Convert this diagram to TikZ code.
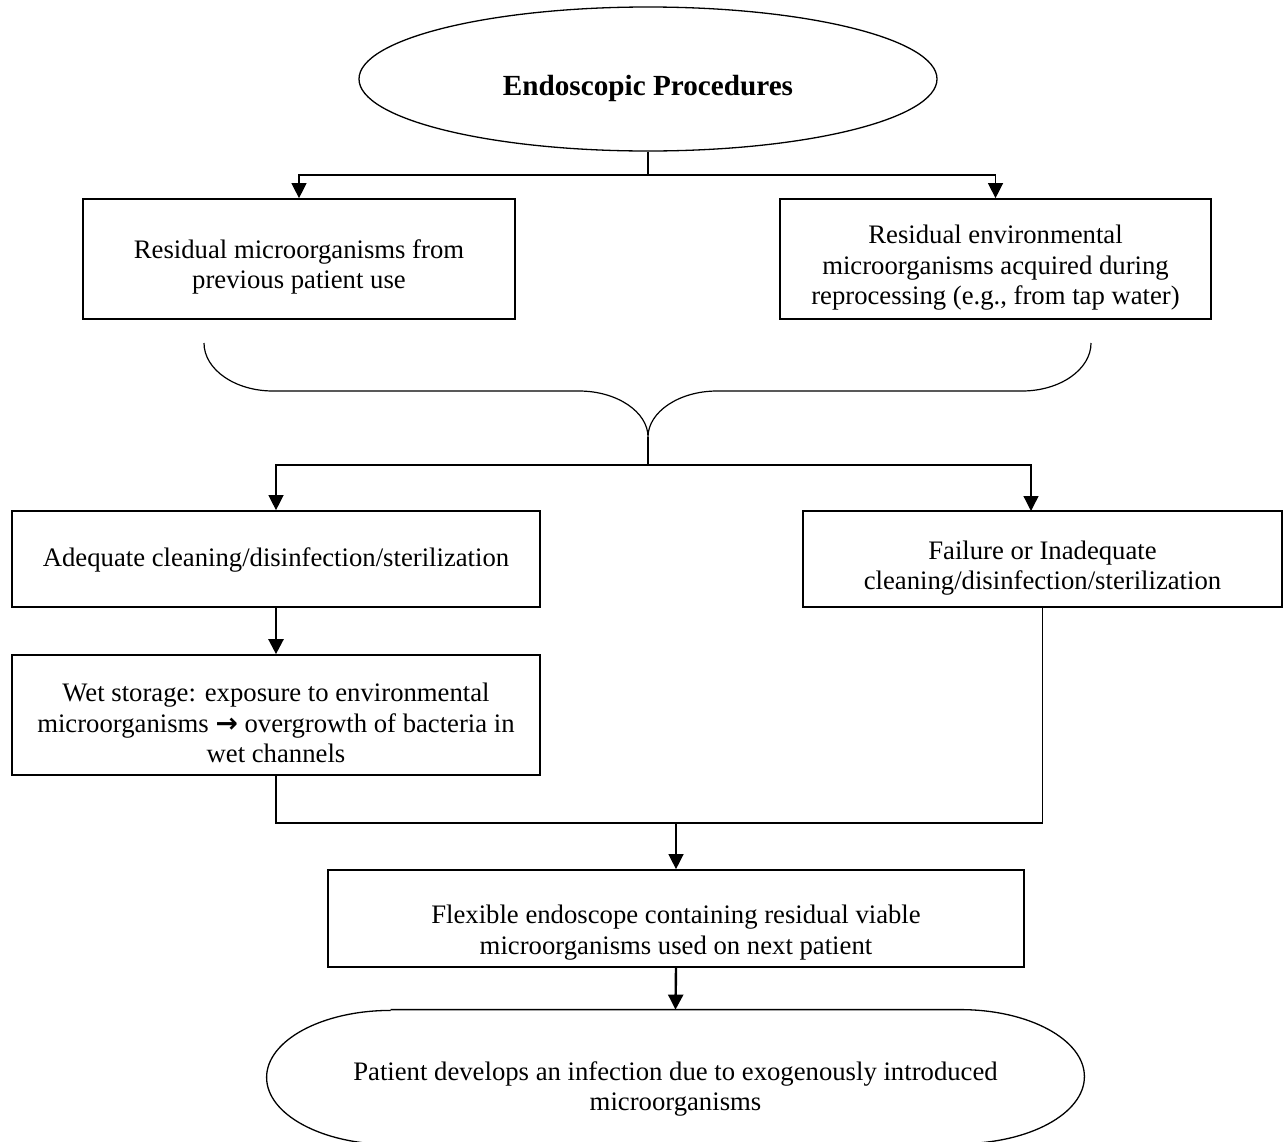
\documentclass[tikz,border=0pt]{standalone}
\usepackage{fontspec}
\setmainfont{Liberation Serif}
\newfontfamily\arrowfont{DejaVu Sans}
\usepackage{tikz}
\usetikzlibrary{arrows.meta}
\usetikzlibrary{shapes.geometric}

\tikzset{
    stepbox/.style   = {draw, rectangle, line width=0.85pt, inner sep=0pt},
    steptext/.style  = {align=center, inner sep=0pt},
    flowline/.style  = {line width=0.65pt},
    flowarrow/.style = {line width=0.65pt, -{Triangle[length=7.5pt, width=7.5pt]}},
    boldarrow/.style = {line width=1.2pt,  -{Triangle[length=7.5pt, width=7.5pt]}},
}

\begin{document}
\begin{tikzpicture}[x=0.5pt, y=-0.5pt, font=\fontsize{13.35}{15.25}\selectfont]
            % Frame to ensure alignment:
            \useasboundingbox                                                 (0, 0) rectangle (1283, 1141);
            % Source
            \node[draw, ellipse, line width=0.65pt, minimum width=289pt, minimum height=72pt, inner sep=0pt,
                  label={[steptext, yshift=-4.5pt]center:\fontsize{14.6}{16}\selectfont\bfseries Endoscopic Procedures}]
                 (proc) at ( 648.0,   79.0) {};
            % Residual microorganisms
            \node[stepbox, minimum width=216pt,   minimum height=60pt,
                  label={[steptext, yshift=-4pt]center:{Residual microorganisms from\\previous patient use}}]
                 (resid) at ( 299.0,  259.0) {};
            \node[stepbox, minimum width=215.5pt, minimum height=60pt,
                  label={[steptext, yshift=-4.5pt]center:{Residual environmental\\microorganisms acquired during\\reprocessing (e.g., from tap water)}}]
                 (envir) at ( 995.5,  259.0) {};
            % Brace
            \coordinate (tip) at (648, 437);
            \draw[line width=0.6pt] (204, 343) .. controls (204, 369.5) and (235, 391) .. (273, 391)
                 -- (579, 391) .. controls (617, 391) and (648, 412) .. (tip)
                 .. controls (648, 412) and (679, 391) .. (717, 391)
                 -- (1022, 391) .. controls (1060, 391) and (1091, 369.5) .. (1091, 343);
            % Reprocessing
            \node[stepbox, minimum width=264pt,   minimum height=48pt,
                  label={[steptext, yshift=-0.5pt]center:{Adequate cleaning/disinfection/sterilization}}]
                 (adeq)  at ( 276.0,  559.0) {};
            \node[stepbox, minimum width=239.5pt, minimum height=48pt,
                  label={[steptext, yshift=-4.5pt]center:{Failure or Inadequate\\cleaning/disinfection/sterilization}}]
                 (fail)  at (1042.5,  559.0) {};
            \node[stepbox, minimum width=264pt,   minimum height=60pt,
                  label={[steptext, yshift=-4pt]center:{Wet storage: exposure to environmental\\microorganisms {\arrowfont\bfseries →} overgrowth of bacteria in\\wet channels}}]
                 (wet)   at ( 276.0,  715.0) {};
            % Next patient
            \node[stepbox, minimum width=348pt,   minimum height=48.5pt,
                  label={[steptext, yshift=-7pt]center:{Flexible endoscope containing residual viable\\microorganisms used on next patient}}]
                 (flex)  at ( 676.0,  918.5) {};
            \node[minimum width=408.5pt, minimum height=67pt, inner sep=0pt,
                  label={[steptext, yshift=-6pt]center:{Patient develops an infection due to exogenously introduced\\microorganisms}}]
                 (patient) at ( 675.5, 1077.0) {};
            \draw[line width=0.65pt] ([xshift=62pt]patient.north west) -- ([xshift=-62pt]patient.north east)
                 arc[start angle=90, end angle=-90, x radius=62pt, y radius=33.5pt]
                 -- ([xshift=62pt]patient.south west)
                 arc[start angle=270, end angle=90, x radius=62pt, y radius=33.5pt];
            % Connectors
            \coordinate (split1) at ( 648, 175);
            \coordinate (split2) at ( 648, 465);
            \coordinate (failin) at (1031, 511);
            \coordinate (join)   at ( 676, 823);
            \draw[flowline]  (proc.south) -- (split1);
            \draw[flowarrow] (split1) -| (resid.north);
            \draw[flowarrow] (split1) -| (envir.north);
            \draw[flowline]  (tip) -- (split2);
            \draw[flowarrow] (split2) -| (adeq.north);
            \draw[flowarrow] (split2) -| (failin);
            \draw[boldarrow] (adeq.south) -- (wet.north);
            \draw[flowline]  (wet.south) -- (wet.south |- join) -- (fail.south |- join) -- (fail.south);
            \draw[flowarrow] (join) -- (flex.north);
            \draw[boldarrow] (flex.south) -- (patient.north);
\end{tikzpicture}
\end{document}
